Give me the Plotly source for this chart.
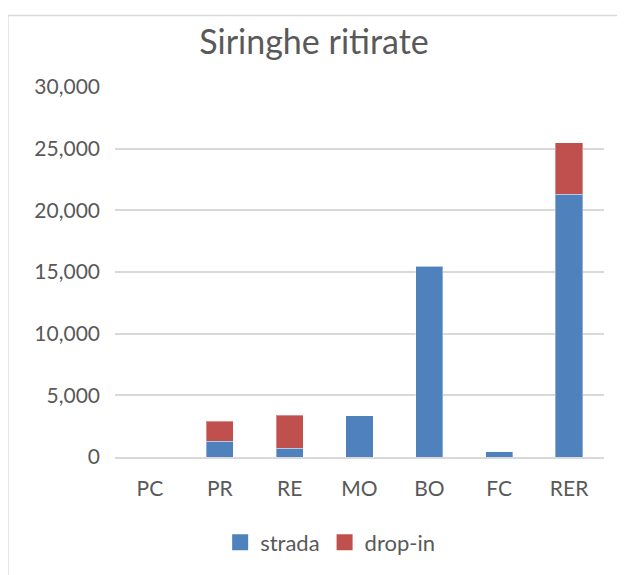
import plotly.graph_objects as go

# Siringhe ritirate per provincia
provinces = ['PC', 'PR', 'RE', 'MO', 'BO', 'FC', 'RER']
strada = [0, 1290, 700, 3330, 15480, 430, 21290]
drop_in = [0, 1590, 2690, 0, 0, 0, 4210]

BLUE = '#4F81BD'
RED = '#C0504D'
GREY = '#595959'

fig = go.Figure()
fig.add_trace(go.Bar(
    x=provinces, y=strada, name='strada', showlegend=False,
    marker_color=BLUE,
    marker_line=dict(color='rgba(255,255,255,0.35)', width=1)
))
fig.add_trace(go.Bar(
    x=provinces, y=drop_in, name='drop-in', showlegend=False,
    marker_color=RED,
    marker_line=dict(color='rgba(255,255,255,0.35)', width=1)
))
# bigger square legend keys, like the excel ones
for name, col in [('strada', BLUE), ('drop-in', RED)]:
    fig.add_trace(go.Scatter(
        x=[None], y=[None], mode='markers', name=name,
        marker=dict(symbol='square', size=16, color=col)
    ))

# page body has an 8px margin, so the figure is a bit smaller than the window
fig.update_layout(
    barmode='stack',
    bargap=0.61,
    width=617,
    height=567,
    margin=dict(l=107, r=21, t=79, b=108),
    paper_bgcolor='white',
    plot_bgcolor='white',
    font=dict(family='Lato', color=GREY, size=21),
    title=dict(
        text='Siringhe ritirate',
        x=0.496, xref='container', xanchor='center',
        y=0.94, yref='container', yanchor='middle',
        font=dict(size=34, color=GREY)
    ),
    legend=dict(
        orientation='h',
        x=0.44, xanchor='center',
        y=-0.231, yanchor='middle',
        font=dict(size=22, color=GREY),
        itemwidth=30,
        traceorder='normal'
    ),
    shapes=[
        dict(type='line', xref='paper', yref='paper',
             x0=-0.219, x1=1.1, y0=1.1935, y1=1.1935,
             line=dict(color='#D9D9D9', width=1.5)),
        dict(type='line', xref='paper', yref='paper',
             x0=-0.219, x1=-0.219, y0=1.1935, y1=-0.5,
             line=dict(color='#D9D9D9', width=1.5)),
    ]
)
fig.update_xaxes(
    showgrid=False,
    showline=True,
    linecolor='#D9D9D9',
    linewidth=1.5,
    ticks='',
    ticklabelstandoff=12,
    tickfont=dict(size=21, color=GREY)
)
fig.update_yaxes(
    range=[0, 30000],
    dtick=5000,
    tickformat=',',
    showgrid=True,
    gridcolor='#D9D9D9',
    gridwidth=1.5,
    zeroline=False,
    showline=False,
    ticks='',
    ticklabelstandoff=14,
    tickfont=dict(size=21, color=GREY)
)

fig.write_html("out.html")
